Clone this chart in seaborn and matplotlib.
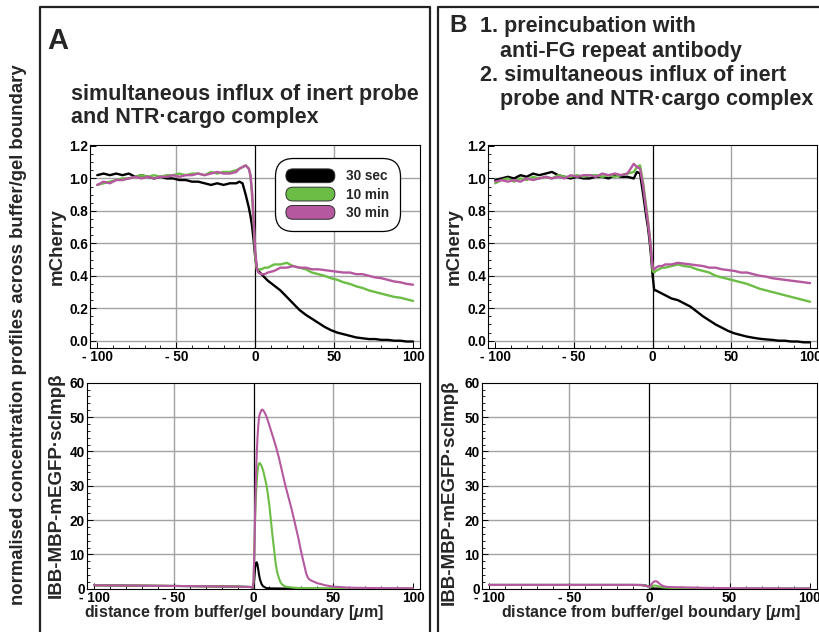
import matplotlib
matplotlib.use('Agg')
import matplotlib.pyplot as plt
import seaborn as sns
from matplotlib.patches import FancyBboxPatch, Patch
from matplotlib.legend_handler import HandlerPatch
from matplotlib.lines import Line2D
from matplotlib.ticker import MultipleLocator

sns.set_theme(style='white')
plt.rcParams['font.family'] = ['Liberation Sans', 'DejaVu Sans']
plt.rcParams['font.weight'] = 'bold'
plt.rcParams['mathtext.fontset'] = 'custom'
plt.rcParams['mathtext.it'] = 'Liberation Sans:italic:bold'
plt.rcParams['mathtext.rm'] = 'Liberation Sans:bold'
plt.rcParams['mathtext.bf'] = 'Liberation Sans:bold'

# ---------------- data ----------------
series_labels = ['30 sec', '10 min', '30 min']
series_colors = ['#000000', '#6cbd45', '#b5589f']

x_ticks = [-100, -50, 0, 50, 100]
x_tick_labels = ['- 100', '- 50', '0', '50', '100']
top_y_ticks = [0.0, 0.2, 0.4, 0.6, 0.8, 1.0, 1.2]
top_y_tick_labels = ['0.0', '0.2', '0.4', '0.6', '0.8', '1.0', '1.2']
bot_y_ticks = [0, 10, 20, 30, 40, 50, 60]
bot_y_tick_labels = ['0', '10', '20', '30', '40', '50', '60']

# mCherry profiles (distance in um)
x_top = [-100, -96, -92, -88, -84, -80, -76, -72, -68, -64, -60, -56, -52, -48, -44, -40,
         -36, -32, -28, -24, -20, -16, -12, -10, -8, -6, -4, -3, -2, -1, 0, 1, 2, 4, 6, 8,
         12, 16, 20, 24, 28, 32, 36, 40, 44, 48, 52, 56, 60, 64, 68, 72, 76, 80, 84, 88,
         92, 96, 100]

a_top_30s = [1.02, 1.03, 1.02, 1.03, 1.02, 1.03, 1.01, 1.02, 1.01, 1.00, 1.01, 1.00, 1.00,
             0.99, 0.99, 0.98, 0.98, 0.97, 0.96, 0.97, 0.96, 0.97, 0.97, 0.98, 0.97, 0.90,
             0.82, 0.77, 0.71, 0.62, 0.52, 0.45, 0.43, 0.41, 0.39, 0.37, 0.34, 0.31, 0.27,
             0.23, 0.19, 0.16, 0.135, 0.11, 0.085, 0.065, 0.05, 0.04, 0.03, 0.02, 0.015,
             0.01, 0.01, 0.005, 0.005, 0.0, 0.0, -0.005, -0.005]
a_top_10m = [0.96, 0.97, 0.98, 0.99, 1.00, 1.00, 1.01, 1.02, 1.01, 1.02, 1.01, 1.02, 1.02,
             1.03, 1.02, 1.03, 1.03, 1.02, 1.04, 1.03, 1.04, 1.04, 1.05, 1.06, 1.07, 1.08,
             1.06, 1.02, 0.90, 0.74, 0.52, 0.44, 0.44, 0.44, 0.45, 0.45, 0.47, 0.47, 0.48,
             0.46, 0.45, 0.44, 0.42, 0.41, 0.40, 0.385, 0.375, 0.36, 0.35, 0.335, 0.325,
             0.31, 0.30, 0.29, 0.28, 0.27, 0.265, 0.255, 0.245]
a_top_30m = [0.96, 0.98, 0.97, 0.99, 0.99, 1.00, 1.01, 1.00, 1.01, 1.00, 1.01, 1.01, 1.02,
             1.01, 1.02, 1.02, 1.03, 1.02, 1.03, 1.04, 1.03, 1.03, 1.04, 1.06, 1.07, 1.08,
             1.06, 1.02, 0.92, 0.76, 0.56, 0.45, 0.42, 0.41, 0.41, 0.42, 0.43, 0.45, 0.45,
             0.46, 0.45, 0.45, 0.44, 0.44, 0.435, 0.43, 0.425, 0.42, 0.42, 0.41, 0.41, 0.40,
             0.39, 0.385, 0.375, 0.365, 0.36, 0.35, 0.345]

b_top_30s = [0.99, 1.00, 1.01, 1.00, 1.02, 1.01, 1.03, 1.02, 1.03, 1.04, 1.02, 1.01, 1.00,
             1.01, 1.00, 1.00, 1.01, 1.01, 1.00, 1.02, 1.01, 1.01, 1.00, 1.04, 1.03, 0.90,
             0.76, 0.70, 0.62, 0.52, 0.40, 0.31, 0.31, 0.30, 0.29, 0.28, 0.26, 0.25, 0.23,
             0.21, 0.18, 0.15, 0.125, 0.10, 0.08, 0.06, 0.045, 0.035, 0.025, 0.018, 0.012,
             0.008, 0.005, 0.0, 0.0, -0.005, -0.005, -0.01, -0.01]
b_top_10m = [0.97, 0.99, 1.00, 0.98, 1.00, 0.99, 1.01, 1.00, 1.01, 1.00, 1.02, 1.01, 1.01,
             1.02, 1.01, 1.02, 1.02, 1.01, 1.02, 1.01, 1.02, 1.03, 1.04, 1.07, 1.08, 0.97,
             0.82, 0.74, 0.66, 0.56, 0.43, 0.42, 0.43, 0.44, 0.45, 0.45, 0.46, 0.47, 0.46,
             0.455, 0.44, 0.43, 0.42, 0.40, 0.39, 0.38, 0.37, 0.36, 0.35, 0.335, 0.32, 0.31,
             0.30, 0.29, 0.28, 0.27, 0.26, 0.25, 0.24]
b_top_30m = [0.98, 0.99, 0.98, 0.99, 0.98, 1.00, 0.99, 1.00, 1.01, 1.00, 1.01, 1.00, 1.02,
             1.01, 1.02, 1.02, 1.01, 1.03, 1.02, 1.03, 1.02, 1.03, 1.09, 1.07, 1.06, 0.95,
             0.80, 0.73, 0.65, 0.56, 0.45, 0.44, 0.45, 0.46, 0.46, 0.47, 0.47, 0.48, 0.475,
             0.47, 0.465, 0.46, 0.45, 0.45, 0.44, 0.435, 0.43, 0.42, 0.42, 0.41, 0.40, 0.395,
             0.385, 0.38, 0.375, 0.37, 0.365, 0.36, 0.355]

# IBB-MBP-mEGFP.scImpb profiles
a_bot_30s_x = [-100, -50, -10, -2, -0.5, 0, 0.5, 1, 1.5, 2, 2.5, 3, 3.5, 4, 5, 6, 8, 10, 20, 50, 100]
a_bot_30s_y = [1.0, 0.8, 0.6, 0.5, 0.3, 0.5, 3.0, 6.0, 7.5, 7.7, 7.0, 5.5, 4.0, 2.8, 1.4, 0.7, 0.2, 0.1, 0.05, 0.0, 0.0]
a_bot_10m_x = [-100, -50, -10, -2, -0.5, 0, 0.5, 1, 1.5, 2, 2.5, 3, 3.5, 4, 5, 6, 7, 8, 9, 10,
               11, 12, 13, 14, 15, 16, 17, 18, 20, 25, 30, 50, 100]
a_bot_10m_y = [1.0, 0.8, 0.6, 0.5, 0.4, 2.0, 10.0, 20.0, 27.0, 31.0, 34.0, 35.8, 36.5, 36.6,
               35.8, 34.5, 32.5, 30.5, 27.5, 24.0, 19.5, 15.0, 11.0, 7.0, 4.5, 3.0, 1.8, 1.2,
               0.6, 0.3, 0.15, 0.05, 0.0]
a_bot_30m_x = [-100, -50, -10, -2, -0.5, 0, 0.5, 1, 1.5, 2, 2.5, 3, 3.5, 4, 5, 5.5, 6, 7, 8,
               10, 12, 14, 16, 18, 20, 22, 24, 26, 28, 30, 31, 32, 33, 34, 35, 37, 40, 45,
               50, 60, 80, 100]
a_bot_30m_y = [1.0, 0.8, 0.6, 0.5, 0.4, 2.0, 10.0, 22.0, 32.0, 39.0, 44.0, 47.5, 50.0, 51.0,
               52.0, 52.2, 52.0, 51.3, 50.3, 47.5, 44.5, 41.5, 38.0, 34.0, 30.0, 26.5, 23.0,
               19.0, 15.0, 10.5, 8.5, 6.5, 4.5, 3.3, 2.7, 2.2, 1.6, 1.0, 0.6, 0.3, 0.15, 0.1]

b_bot_30s_x = [-100, -50, -10, -5, -2, 0, 2, 5, 10, 100]
b_bot_30s_y = [1.1, 1.1, 1.1, 1.1, 0.9, 0.5, 0.1, 0.05, 0.0, 0.0]
b_bot_10m_x = [-100, -50, -10, -5, -2, 0, 1, 2, 3, 4, 5, 6, 8, 10, 15, 20, 30, 50, 100]
b_bot_10m_y = [1.1, 1.1, 1.1, 1.05, 0.85, 0.4, 0.5, 0.8, 0.9, 0.9, 0.8, 0.6, 0.4, 0.3, 0.2,
               0.15, 0.1, 0.05, 0.0]
b_bot_30m_x = [-100, -50, -10, -5, -2, 0, 1, 2, 3, 4, 5, 6, 7, 8, 10, 12, 15, 20, 30, 40, 50, 60, 100]
b_bot_30m_y = [1.1, 1.1, 1.1, 1.05, 0.85, 0.5, 1.0, 1.7, 2.1, 2.2, 2.0, 1.6, 1.2, 0.9, 0.6,
               0.5, 0.45, 0.4, 0.3, 0.2, 0.15, 0.1, 0.05]

# ---------------- figure ----------------
W, H = 819, 632
fig = plt.figure(figsize=(W / 100, H / 100), dpi=100)


def px_axes(x0, y0, x1, y1):
    return fig.add_axes([x0 / W, 1 - y1 / H, (x1 - x0) / W, (y1 - y0) / H])


GRID = '#a3a3a3'


def style(ax, top):
    ax.set_xlim(-104.6, 104.4)
    ax.set_xticks(x_ticks)
    ax.set_xticklabels(x_tick_labels)
    ax.xaxis.set_minor_locator(MultipleLocator(10))
    if top:
        ax.set_ylim(-0.045, 1.206)
        ax.set_yticks(top_y_ticks)
        ax.set_yticklabels(top_y_tick_labels)
        ax.yaxis.set_minor_locator(MultipleLocator(0.05))
        hgrid = top_y_ticks[:-1]
    else:
        ax.set_ylim(0, 60)
        ax.set_yticks(bot_y_ticks)
        ax.set_yticklabels(bot_y_tick_labels)
        ax.yaxis.set_minor_locator(MultipleLocator(2))
        hgrid = bot_y_ticks[1:-1]
    for v in hgrid:
        ax.axhline(v, color=GRID, lw=1.0, zorder=0.5)
    for v in [-50, 50]:
        ax.axvline(v, color=GRID, lw=1.0, zorder=0.5)
    ax.axvline(0, color='black', lw=0.9, zorder=1)
    ax.tick_params(which='both', direction='in', left=True, bottom=True, top=False,
                   right=False, colors='black', labelsize=9.8)
    ax.tick_params(which='major', length=4, width=0.7)
    ax.tick_params(which='minor', length=2, width=0.6)
    ax.tick_params(axis='x', pad=1.5)
    ax.tick_params(axis='y', pad=1.5)
    for s in ax.spines.values():
        s.set_color('black')
        s.set_linewidth(0.8)
    ax.set_facecolor('white')


def draw(ax, xs_list, ys_list, lw):
    for xs, ys, c in zip(xs_list, ys_list, series_colors):
        sns.lineplot(x=xs, y=ys, ax=ax, color=c, lw=lw, estimator=None, sort=False,
                     legend=False, zorder=3)


axA1 = px_axes(90, 145, 420, 348)
axA2 = px_axes(86.7, 382.7, 420, 588.7)
axB1 = px_axes(488, 145, 817, 348)
axB2 = px_axes(481.7, 382.7, 816.7, 588.7)

draw(axA1, [x_top] * 3, [a_top_30s, a_top_10m, a_top_30m], 1.7)
draw(axB1, [x_top] * 3, [b_top_30s, b_top_10m, b_top_30m], 1.7)
draw(axA2, [a_bot_30s_x, a_bot_10m_x, a_bot_30m_x], [a_bot_30s_y, a_bot_10m_y, a_bot_30m_y], 1.5)
draw(axB2, [b_bot_30s_x, b_bot_10m_x, b_bot_30m_x], [b_bot_30s_y, b_bot_10m_y, b_bot_30m_y], 1.5)

for ax in (axA1, axB1):
    style(ax, True)
for ax in (axA2, axB2):
    style(ax, False)

LBL = 13.5
XL = r'distance from buffer/gel boundary [$\mu$m]'
axA1.set_ylabel('mCherry', fontsize=LBL, fontweight='bold')
axA1.yaxis.set_label_coords((66 - 90) / 330, 0.5)
axB1.set_ylabel('mCherry', fontsize=LBL, fontweight='bold')
axB1.yaxis.set_label_coords((463 - 488) / 329, 0.5)
axA2.set_ylabel('IBB-MBP-mEGFP·scImpβ', fontsize=LBL, fontweight='bold')
axA2.yaxis.set_label_coords((65 - 86.7) / 333.3, 0.5)
axB2.set_ylabel('IBB-MBP-mEGFP·scImpβ', fontsize=LBL, fontweight='bold')
axB2.yaxis.set_label_coords((458 - 481.7) / 335, 0.47)
axA2.set_xlabel(XL, fontsize=11.5, fontweight='bold')
axA2.xaxis.set_label_coords(0.4425, -0.071)
axB2.set_xlabel(XL, fontsize=11.5, fontweight='bold')
axB2.xaxis.set_label_coords(0.505, -0.071)


# legend with pill-shaped handles
class PillHandler(HandlerPatch):
    def create_artists(self, legend, orig_handle, xdescent, ydescent, width, height,
                       fontsize, trans):
        p = FancyBboxPatch((-xdescent, -ydescent), width, height,
                           boxstyle=f'round,pad=0,rounding_size={height / 2}',
                           facecolor=orig_handle.get_facecolor(), edgecolor='#303030',
                           lw=0.7, transform=trans)
        return [p]


handles = [Patch(facecolor=c, label=l) for c, l in zip(series_colors, series_labels)]
leg = axA1.legend(handles=handles, handler_map={Patch: PillHandler()}, loc='upper left',
                  bbox_to_anchor=((275 - 90) / 330, 1 - (158 - 145) / 203), borderaxespad=0,
                  fontsize=9.8, handlelength=3.6, handleheight=1.18, handletextpad=0.8,
                  labelspacing=0.28, borderpad=0.8, frameon=True, fancybox=True,
                  framealpha=1, edgecolor='black', facecolor='white')
leg.get_frame().set_boxstyle('round,pad=0,rounding_size=1.3')
leg.get_frame().set_linewidth(0.9)
leg.set_zorder(10)

# panel frames
FR = 1.6
for x0, x1 in [(40, 430), (438, 823)]:
    fig.add_artist(Line2D([x0 / W, x0 / W, x1 / W, x1 / W], [-0.01, 1 - 7 / H, 1 - 7 / H, -0.01],
                          transform=fig.transFigure, color='#222222', lw=FR))

# texts
def ftext(x, y, s, **kw):
    fig.text(x / W, 1 - y / H, s, **kw)


ftext(47, 49, 'A', fontsize=21, fontweight='bold', va='baseline')
ftext(71, 100, 'simultaneous influx of inert probe', fontsize=15.5, fontweight='bold', va='baseline')
ftext(71, 123, 'and NTR·cargo complex', fontsize=15.5, fontweight='bold', va='baseline')

ftext(449, 32, 'B', fontsize=17.5, fontweight='bold', va='baseline')
ftext(480, 32, '1. preincubation with', fontsize=15.5, fontweight='bold', va='baseline')
ftext(500, 56.5, 'anti-FG repeat antibody', fontsize=15.5, fontweight='bold', va='baseline')
ftext(480, 81, '2. simultaneous influx of inert', fontsize=15.5, fontweight='bold', va='baseline')
ftext(500, 105.5, 'probe and NTR·cargo complex', fontsize=15.5, fontweight='bold', va='baseline')

ftext(18.5, 335, 'normalised concentration profiles across buffer/gel boundary',
      fontsize=13.3, fontweight='bold', rotation=90, ha='center', va='center')

fig.savefig('out.png', dpi=100, facecolor='white')
